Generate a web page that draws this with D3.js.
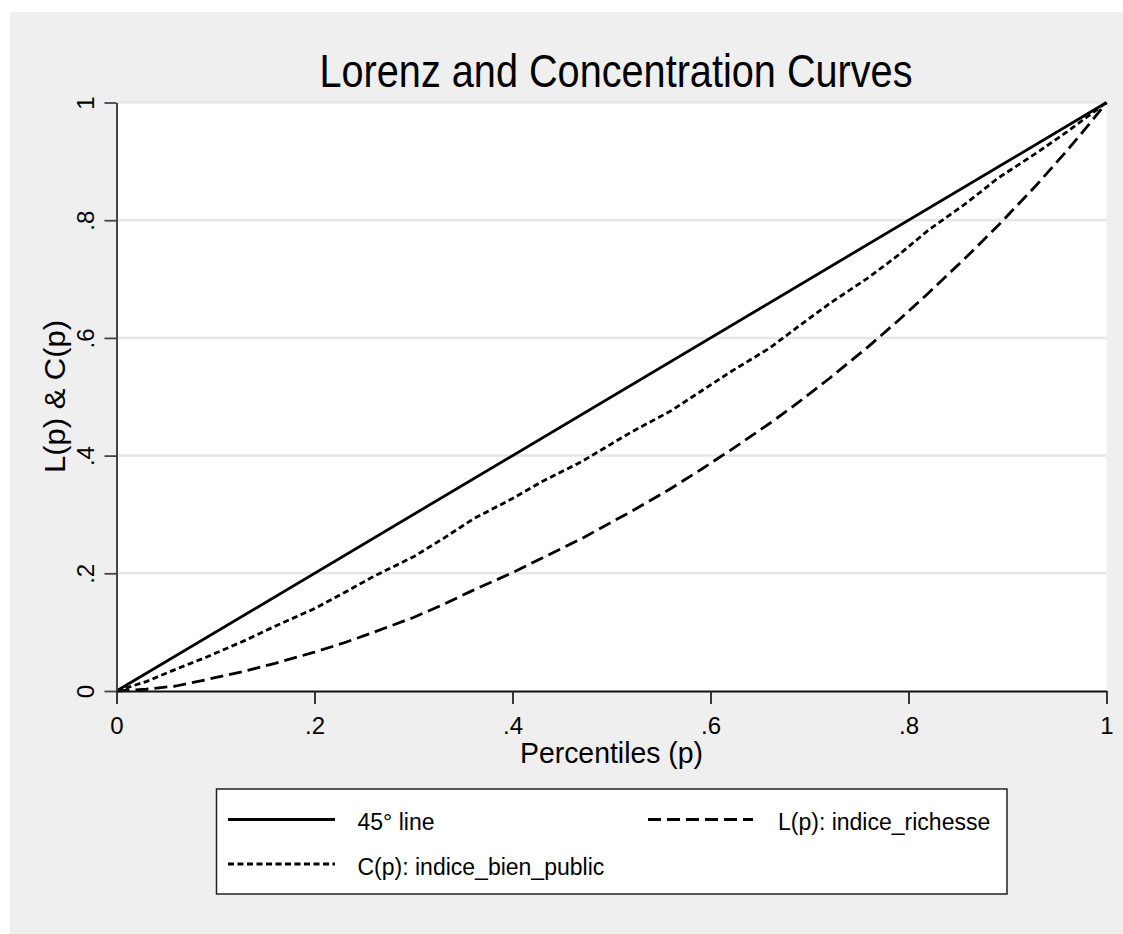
<!DOCTYPE html>
<html>
<head>
<meta charset="utf-8">
<script src="https://cdnjs.cloudflare.com/ajax/libs/d3/7.8.5/d3.min.js"></script>
<style>
body { margin: 0; background: #fff; }
svg text { font-family: "Liberation Sans", Arial, Helvetica, sans-serif; fill: #000; }
</style>
</head>
<body>
<svg id="chart" width="1123" height="934"></svg>
<script>
// percentiles (p)
var pctl   = [0, 0.03, 0.06, 0.09, 0.13, 0.16, 0.2, 0.23, 0.26, 0.3, 0.33, 0.36, 0.4, 0.43, 0.47, 0.5,
              0.52, 0.56, 0.59, 0.62, 0.66, 0.69, 0.72, 0.76, 0.79, 0.82, 0.86, 0.89, 0.93, 0.96, 0.98, 1];
// C(p): indice_bien_public
var conc   = [0, 0.016, 0.037, 0.057, 0.086, 0.11, 0.14, 0.167, 0.195, 0.228, 0.259, 0.292, 0.327, 0.356, 0.39, 0.42,
              0.44, 0.476, 0.509, 0.542, 0.583, 0.621, 0.658, 0.703, 0.741, 0.783, 0.831, 0.871, 0.915, 0.95, 0.975, 1];
// L(p): indice_richesse
var lorenz = [0, 0.003, 0.0085, 0.019, 0.034, 0.047, 0.066, 0.082, 0.1, 0.125, 0.147, 0.171, 0.201, 0.226, 0.259, 0.287,
              0.305, 0.344, 0.376, 0.409, 0.455, 0.492, 0.531, 0.586, 0.63, 0.676, 0.74, 0.79, 0.861, 0.918, 0.958, 1];
// 45 degree line
var diagP = [0, 1];
var diagV = [0, 1];

var xTicks = [0, 0.2, 0.4, 0.6, 0.8, 1];
var xTickLabels = ["0", ".2", ".4", ".6", ".8", "1"];
var yTicks = [0, 0.2, 0.4, 0.6, 0.8, 1];
var yTickLabels = ["0", ".2", ".4", ".6", ".8", "1"];

var legendLabels = ["45\u00b0 line", "L(p): indice_richesse", "C(p): indice_bien_public"];
var legendDash = [null, "13,6", "6,3.5"];

var svg = d3.select("#chart");

var x = d3.scaleLinear().domain([0, 1]).range([116.5, 1106.5]);
var y = d3.scaleLinear().domain([0, 1]).range([691, 102.5]);

// graph region
svg.append("rect")
    .attr("x", 10).attr("y", 12)
    .attr("width", 1113).attr("height", 922)
    .style("fill", "#efefef");

// plot region
svg.append("rect")
    .attr("x", x(0)).attr("y", y(1))
    .attr("width", x(1) - x(0)).attr("height", y(0) - y(1))
    .style("fill", "#fff");

// grid
svg.selectAll(".grid")
    .data(yTicks.filter(function(d) { return d > 0; }))
    .enter().append("line")
    .attr("class", "grid")
    .attr("x1", x(0)).attr("x2", x(1))
    .attr("y1", function(d) { return y(d); })
    .attr("y2", function(d) { return y(d); })
    .style("stroke", "#e6e6e6")
    .style("stroke-width", 2.5);

// title
svg.append("text")
    .attr("x", 616).attr("y", 87)
    .attr("font-size", "46px")
    .attr("textLength", 593)
    .attr("lengthAdjust", "spacingAndGlyphs")
    .style("text-anchor", "middle")
    .text("Lorenz and Concentration Curves");

// curves
var line = d3.line()
    .x(function(d) { return x(d[0]); })
    .y(function(d) { return y(d[1]); });

var series = [
  { p: diagP, v: diagV, dash: legendDash[0] },
  { p: pctl, v: conc, dash: legendDash[2] },
  { p: pctl, v: lorenz, dash: legendDash[1] }
];

svg.selectAll(".curve")
    .data(series)
    .enter().append("path")
    .attr("class", "curve")
    .attr("d", function(s) { return line(s.p.map(function(p, i) { return [p, s.v[i]]; })); })
    .style("fill", "none")
    .style("stroke", "#000")
    .style("stroke-width", 2.8)
    .style("stroke-linejoin", "round")
    .style("stroke-dasharray", function(s) { return s.dash; });

// y axis
var yAxis = svg.append("g")
    .attr("transform", "translate(" + x(0) + ",0)")
    .call(d3.axisLeft(y).tickValues(yTicks)
      .tickFormat(function(d, i) { return yTickLabels[i]; })
      .tickSize(12).tickSizeOuter(0));
yAxis.select(".domain").style("stroke", "#444").style("stroke-width", 2);
yAxis.selectAll(".tick line").style("stroke", "#444").style("stroke-width", 1.8);
yAxis.selectAll(".tick text")
    .attr("x", 0).attr("y", -23).attr("dy", null)
    .attr("transform", "rotate(-90)")
    .attr("font-size", "24px")
    .attr("font-family", null)
    .style("text-anchor", "middle");

// x axis
var xAxis = svg.append("g")
    .attr("transform", "translate(0," + y(0) + ")")
    .call(d3.axisBottom(x).tickValues(xTicks)
      .tickFormat(function(d, i) { return xTickLabels[i]; })
      .tickSize(13).tickSizeOuter(0));
xAxis.select(".domain").style("stroke", "#111").style("stroke-width", 2);
xAxis.selectAll(".tick line").style("stroke", "#222").style("stroke-width", 1.8);
xAxis.selectAll(".tick text")
    .attr("y", 43).attr("dy", null)
    .attr("font-size", "24px")
    .attr("font-family", null)
    .style("text-anchor", "middle");

// axis titles
svg.append("text")
    .attr("x", 611.5).attr("y", 763)
    .attr("font-size", "30px")
    .attr("textLength", 183)
    .attr("lengthAdjust", "spacingAndGlyphs")
    .style("text-anchor", "middle")
    .text("Percentiles (p)");

svg.append("text")
    .attr("transform", "translate(65,396.5) rotate(-90)")
    .attr("font-size", "30px")
    .attr("textLength", 153)
    .attr("lengthAdjust", "spacingAndGlyphs")
    .style("text-anchor", "middle")
    .text("L(p) & C(p)");

// legend
var legend = svg.append("g");
legend.append("rect")
    .attr("x", 216.5).attr("y", 789)
    .attr("width", 790.5).attr("height", 105)
    .style("fill", "#fff")
    .style("stroke", "#222")
    .style("stroke-width", 1.5);

var legPos = [
  { x1: 228, x2: 335, y: 819.5, tx: 357.5, ty: 830 },
  { x1: 648, x2: 753, y: 819.5, tx: 778, ty: 830 },
  { x1: 228, x2: 335, y: 864, tx: 357.5, ty: 875 }
];

var items = legend.selectAll(".leg")
    .data(legendLabels)
    .enter().append("g")
    .attr("class", "leg");

items.append("line")
    .attr("x1", function(d, i) { return legPos[i].x1; })
    .attr("x2", function(d, i) { return legPos[i].x2; })
    .attr("y1", function(d, i) { return legPos[i].y; })
    .attr("y2", function(d, i) { return legPos[i].y; })
    .style("stroke", "#000")
    .style("stroke-width", 3)
    .style("stroke-dasharray", function(d, i) { return legendDash[i]; });

items.append("text")
    .attr("x", function(d, i) { return legPos[i].tx; })
    .attr("y", function(d, i) { return legPos[i].ty; })
    .attr("font-size", "23px")
    .text(function(d) { return d; });
</script>
</body>
</html>
